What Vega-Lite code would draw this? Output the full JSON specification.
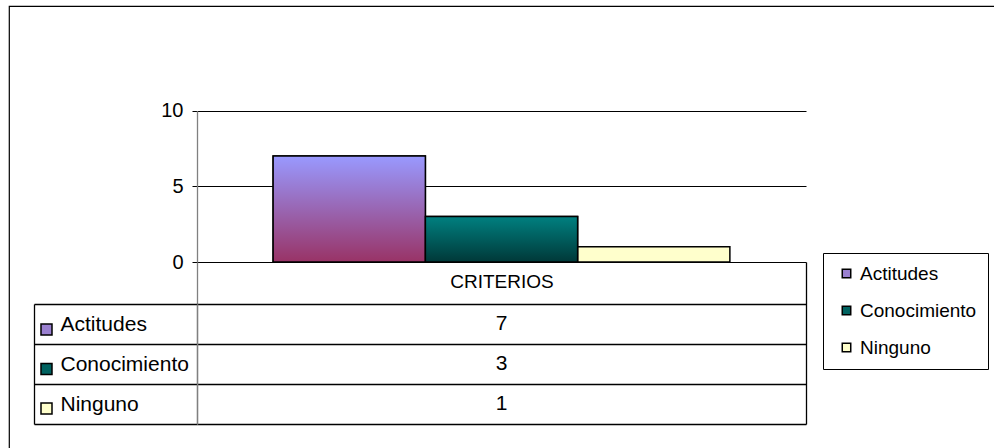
{
  "$schema": "https://vega.github.io/schema/vega-lite/v6.json",
  "width": 995,
  "height": 452,
  "autosize": {"type": "none"},
  "padding": {"left": 9, "top": 6, "right": -10, "bottom": -10},
  "background": "white",
  "config": {
    "font": "Liberation Sans",
    "view": {"stroke": "#000", "strokeWidth": 1.2, "fill": "white"},
    "axis": {"labelFont": "Liberation Sans", "labelColor": "#000"},
    "legend": {"labelFont": "Liberation Sans", "labelColor": "#000"}
  },
  "data": {
    "values": [
      {"criterio": "CRITERIOS", "serie": "Actitudes", "valor": 7},
      {"criterio": "CRITERIOS", "serie": "Conocimiento", "valor": 3},
      {"criterio": "CRITERIOS", "serie": "Ninguno", "valor": 1}
    ]
  },
  "encoding": {
    "x": {
      "field": "criterio",
      "type": "nominal",
      "scale": {"range": [188, 797], "paddingInner": 0, "paddingOuter": 0},
      "axis": {
        "orient": "bottom",
        "offset": -196,
        "title": null,
        "domain": false,
        "grid": false,
        "tickBand": "extent",
        "tickSize": 162,
        "tickWidth": 1.3,
        "tickColor": {"condition": {"test": "datum.extra", "value": "#808080"}, "value": "#000"},
        "labelPadding": -152,
        "labelFontSize": 19,
        "labelAngle": 0
      }
    }
  },
  "layer": [
    {
      "mark": {"type": "bar", "stroke": "#000", "strokeWidth": 1.5},
      "encoding": {
        "xOffset": {"field": "serie", "type": "nominal", "scale": {"domain": ["Actitudes", "Conocimiento", "Ninguno"], "paddingInner": 0, "paddingOuter": 0.5}},
        "y": {
          "field": "valor",
          "type": "quantitative",
          "scale": {"domain": [0, 10], "range": [256, 104.7], "nice": false},
          "axis": {
            "orient": "left",
            "offset": -188,
            "title": null,
            "values": [0, 5, 10],
            "tickSize": 5,
            "tickColor": "#000",
            "labelPadding": 9,
            "labelFontSize": 20,
            "domainColor": "#808080",
            "domainWidth": 1.3,
            "grid": true,
            "gridColor": "#000",
            "gridWidth": 1
          }
        },
        "color": {
          "field": "serie",
          "type": "nominal",
          "scale": {"domain": ["Actitudes", "Conocimiento", "Ninguno"], "range": ["#9A80D0", "#006260", "#FFFFCC"]},
          "legend": {
            "title": null,
            "orient": "none",
            "legendX": 814,
            "legendY": 247,
            "direction": "vertical",
            "symbolType": "square",
            "symbolSize": 72,
            "symbolStrokeColor": "#000",
            "symbolStrokeWidth": 1.5,
            "symbolOffset": 3,
            "labelFontSize": 19,
            "labelOffset": 4,
            "labelLimit": 300,
            "rowPadding": 17,
            "padding": 11,
            "strokeColor": "#000",
            "fillColor": "white"
          }
        }
      }
    },
    {
      "transform": [{"filter": "datum.serie === 'Actitudes'"}],
      "mark": {
        "type": "bar",
        "stroke": "#000",
        "strokeWidth": 1.5,
        "fill": {"gradient": "linear", "x1": 0, "y1": 0, "x2": 0, "y2": 1, "stops": [{"offset": 0, "color": "#9999FF"}, {"offset": 1, "color": "#993366"}]}
      },
      "encoding": {
        "xOffset": {"field": "serie", "type": "nominal", "scale": {"domain": ["Actitudes", "Conocimiento", "Ninguno"], "paddingInner": 0, "paddingOuter": 0.5}},
        "y": {"field": "valor", "type": "quantitative", "scale": {"domain": [0, 10], "range": [256, 104.7], "nice": false}, "axis": null}
      }
    },
    {
      "transform": [{"filter": "datum.serie === 'Conocimiento'"}],
      "mark": {
        "type": "bar",
        "stroke": "#000",
        "strokeWidth": 1.5,
        "fill": {"gradient": "linear", "x1": 0, "y1": 0, "x2": 0, "y2": 1, "stops": [{"offset": 0, "color": "#008080"}, {"offset": 1, "color": "#003838"}]}
      },
      "encoding": {
        "xOffset": {"field": "serie", "type": "nominal", "scale": {"domain": ["Actitudes", "Conocimiento", "Ninguno"], "paddingInner": 0, "paddingOuter": 0.5}},
        "y": {"field": "valor", "type": "quantitative", "scale": {"domain": [0, 10], "range": [256, 104.7], "nice": false}, "axis": null}
      }
    },
    {
      "mark": {"type": "text", "fontSize": 21, "font": "Liberation Sans", "color": "#000", "baseline": "middle", "align": "center"},
      "encoding": {
        "y": {
          "field": "serie",
          "type": "nominal",
          "scale": {"domain": ["Actitudes", "Conocimiento", "Ninguno"], "range": [298, 418], "paddingInner": 0, "paddingOuter": 0},
          "axis": {
            "orient": "left",
            "offset": -188,
            "title": null,
            "labels": false,
            "domain": true,
            "domainColor": "#808080",
            "domainWidth": 1.3,
            "tickBand": "extent",
            "tickSize": 163,
            "tickColor": "#000",
            "tickWidth": 1.3,
            "grid": true,
            "gridColor": "#000",
            "gridWidth": 1.3
          }
        },
        "text": {"field": "valor", "type": "quantitative"}
      }
    },
    {
      "mark": {"type": "square", "opacity": 0},
      "encoding": {
        "y": {
          "field": "serie",
          "type": "nominal",
          "scale": {"domain": ["Actitudes", "Conocimiento", "Ninguno"], "range": [298, 418], "paddingInner": 0, "paddingOuter": 0},
          "axis": {
            "orient": "left",
            "offset": -25,
            "title": null,
            "domain": true,
            "domainColor": "#000",
            "domainWidth": 1.3,
            "ticks": false,
            "grid": false,
            "labelAlign": "left",
            "labelPadding": -26,
            "labelFontSize": 21
          }
        },
        "color": {
          "field": "serie",
          "type": "nominal",
          "scale": {"domain": ["Actitudes", "Conocimiento", "Ninguno"], "range": ["#9A80D0", "#006260", "#FFFFCC"]},
          "legend": {
            "title": null,
            "orient": "none",
            "legendX": 31,
            "legendY": 317,
            "direction": "vertical",
            "symbolType": "square",
            "symbolSize": 121,
            "symbolStrokeColor": "#000",
            "symbolStrokeWidth": 1.5,
            "symbolOpacity": 1,
            "labelExpr": "''",
            "labelFontSize": 1,
            "labelOffset": 0,
            "rowPadding": 22.5,
            "padding": 0
          }
        }
      }
    }
  ],
  "resolve": {
    "scale": {"y": "independent", "color": "independent"},
    "axis": {"y": "independent"},
    "legend": {"color": "independent"}
  }
}
